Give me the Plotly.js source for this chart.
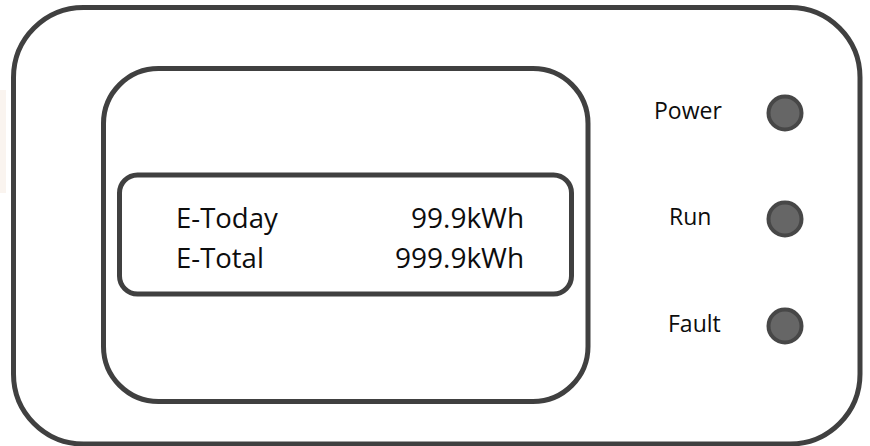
<!DOCTYPE html>
<html>
<head>
<meta charset="utf-8">
<script src="https://cdn.plot.ly/plotly-3.0.1.min.js"></script>
<style>html,body{margin:0;padding:0;background:#fff;}#chart{width:870px;height:446px;}</style>
</head>
<body>
<div id="chart"></div>
<script>
// ---- data ----
const readingLabels = ["E-Today", "E-Total"];
const readingValues = ["99.9kWh", "999.9kWh"];
const indicatorLabels = ["Power", "Run", "Fault"];

// ---- layout constants (pixel space, y downward) ----
const W = 870, H = 446;
const stroke = "#404040";
const textFont = "Open Sans, DejaVu Sans, sans-serif";

function roundRect(x0, y0, x1, y1, r) {
  const k = 0.5523 * r;
  return "M" + (x0 + r) + "," + y0 +
    " L" + (x1 - r) + "," + y0 +
    " C" + (x1 - r + k) + "," + y0 + " " + x1 + "," + (y0 + r - k) + " " + x1 + "," + (y0 + r) +
    " L" + x1 + "," + (y1 - r) +
    " C" + x1 + "," + (y1 - r + k) + " " + (x1 - r + k) + "," + y1 + " " + (x1 - r) + "," + y1 +
    " L" + (x0 + r) + "," + y1 +
    " C" + (x0 + r - k) + "," + y1 + " " + x0 + "," + (y1 - r + k) + " " + x0 + "," + (y1 - r) +
    " L" + x0 + "," + (y0 + r) +
    " C" + x0 + "," + (y0 + r - k) + " " + (x0 + r - k) + "," + y0 + " " + (x0 + r) + "," + y0 + " Z";
}

const shapes = [
  {type: "rect", xref: "x", yref: "y", x0: 0, x1: 6, y0: 90, y1: 193,
   fillcolor: "#faf4ef", line: {width: 0}, layer: "below"},
  {type: "path", xref: "x", yref: "y", path: roundRect(13.5, 7.5, 860, 444, 70),
   line: {color: stroke, width: 5}, fillcolor: "rgba(0,0,0,0)"},
  {type: "path", xref: "x", yref: "y", path: roundRect(103.5, 68.5, 588, 401.5, 55),
   line: {color: stroke, width: 5}, fillcolor: "rgba(0,0,0,0)"},
  {type: "path", xref: "x", yref: "y", path: roundRect(119.5, 175, 571.5, 294, 18),
   line: {color: stroke, width: 5}, fillcolor: "rgba(0,0,0,0)"}
];

const rowY = [217, 257];
const annotations = [];
readingLabels.forEach((lab, i) => {
  annotations.push({x: 174, y: rowY[i], xref: "x", yref: "y", text: lab, showarrow: false,
    xanchor: "left", yanchor: "middle", font: {family: textFont, size: 27.5, color: "#0d0d0d"}});
  annotations.push({x: 526, y: rowY[i], xref: "x", yref: "y", text: readingValues[i], showarrow: false,
    xanchor: "right", yanchor: "middle", font: {family: textFont, size: 28, color: "#0d0d0d"}});
});

const ledY = [113, 219, 326];
const labelX = [688, 690, 694.5];
const labelY = [110, 216, 323];
indicatorLabels.forEach((lab, i) => {
  annotations.push({x: labelX[i], y: labelY[i], xref: "x", yref: "y", text: lab, showarrow: false,
    xanchor: "center", yanchor: "middle", font: {family: textFont, size: 23, color: "#0d0d0d"}});
});

const leds = {
  type: "scatter", mode: "markers",
  x: indicatorLabels.map(() => 785),
  y: ledY,
  text: indicatorLabels,
  hoverinfo: "text",
  marker: {size: 33, color: "#666666", line: {color: "#474747", width: 4}},
  showlegend: false
};

const layout = {
  width: W, height: H,
  margin: {l: 0, r: 0, t: 0, b: 0},
  paper_bgcolor: "#ffffff", plot_bgcolor: "#ffffff",
  xaxis: {range: [0, W], visible: false, fixedrange: true},
  yaxis: {range: [H, 0], visible: false, fixedrange: true},
  shapes: shapes,
  annotations: annotations,
  showlegend: false
};

Plotly.newPlot("chart", [leds], layout, {displayModeBar: false, staticPlot: true});
</script>
</body>
</html>
